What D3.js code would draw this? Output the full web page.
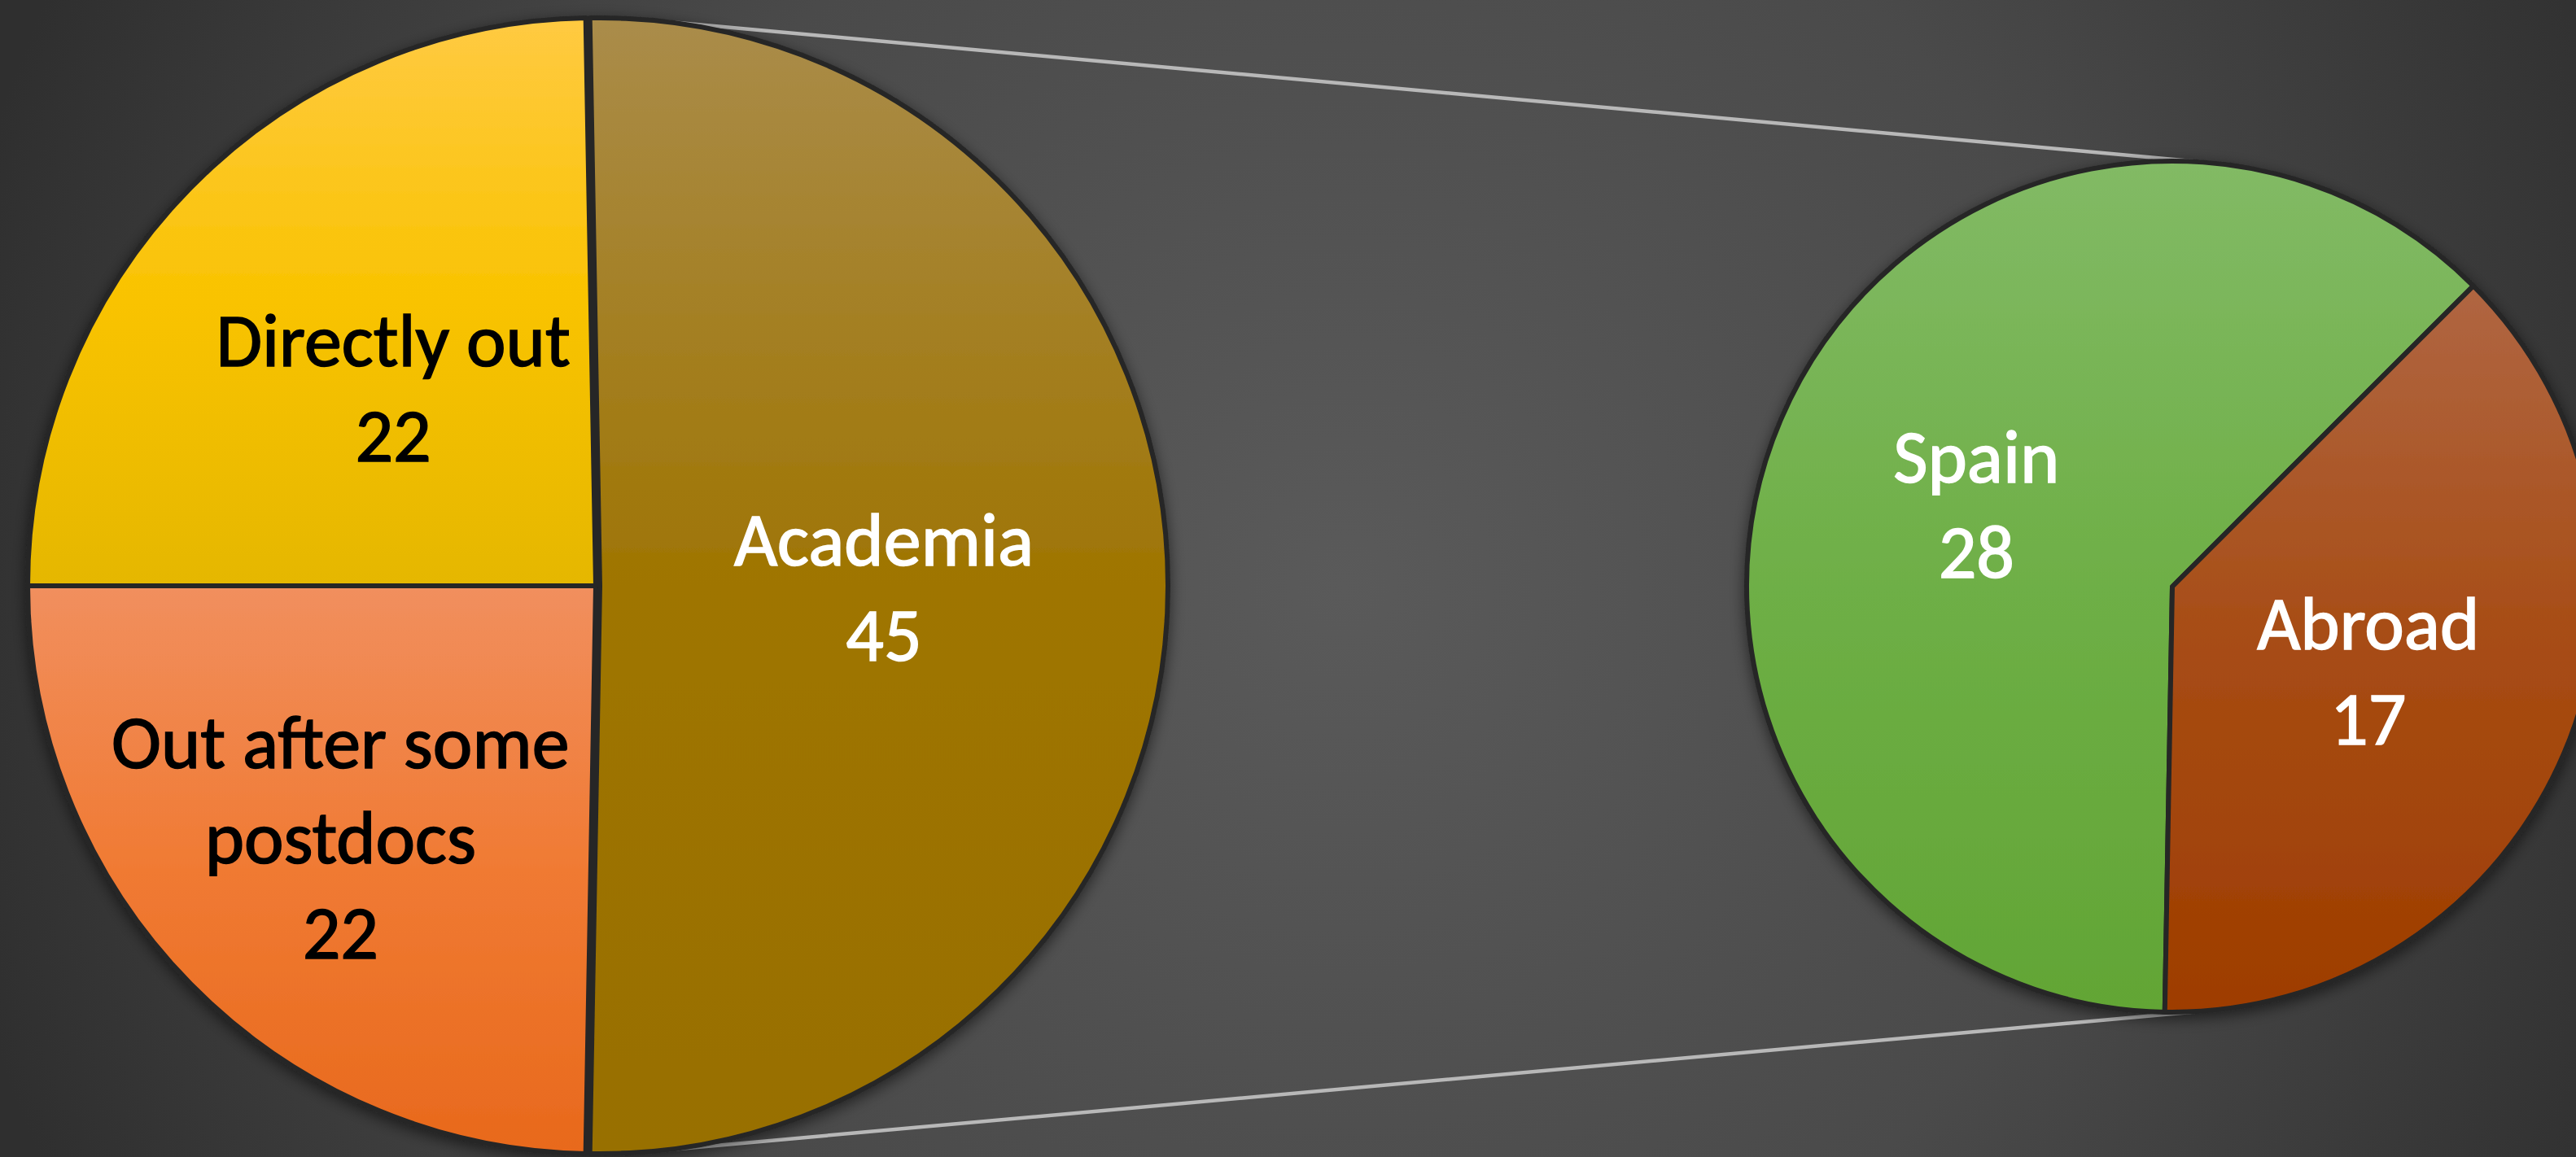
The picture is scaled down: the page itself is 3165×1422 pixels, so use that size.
<!DOCTYPE html>
<html><head><meta charset="utf-8">
<script src="https://cdn.jsdelivr.net/npm/d3@7"></script>
<style>html,body{margin:0;padding:0;background:#3a3a3a;overflow:hidden}</style>
</head><body>
<svg id="chart" width="3165" height="1422"></svg>
<script>
// ---- data ----
const mainCategories = ["Academia", "Out after some postdocs", "Directly out"];
const mainValues = [45, 22, 22];
const subCategories = ["Spain", "Abroad"];
const subValues = [28, 17];

// ---- style ----
const mainColors = [
  ["#AA8C4A", "#9F7502", "#986F00"],
  ["#F18F5E", "#F07A33", "#E8691C"],
  ["#FFCA42", "#F9C300", "#E5B700"]
];
const subColors = [
  ["#82BA65", "#6EAF46", "#62A535"],
  ["#B06642", "#A74C14", "#9E3D00"]
];
const mainTextColors = ["#ffffff", "#000000", "#000000"];
const subTextColors = ["#ffffff", "#ffffff"];
const mainLabelRadius = [0.5, 0.63, 0.5];
const subLabelRadius = [0.5, 0.5];
const W = 3165, H = 1422;
const fontFamily = "Calibri, Carlito, Lato, 'Noto Sans', sans-serif";
const fontSize = 92, lineHeight = 117;

const svg = d3.select("#chart");
const defs = svg.append("defs");

// background
const bg = defs.append("radialGradient").attr("id", "bg")
  .attr("gradientUnits", "userSpaceOnUse")
  .attr("cx", 1650).attr("cy", 720).attr("r", 1750);
bg.append("stop").attr("offset", 0).attr("stop-color", "#5a5a5a");
bg.append("stop").attr("offset", 0.55).attr("stop-color", "#4a4a4a");
bg.append("stop").attr("offset", 1).attr("stop-color", "#2f2f2f");
svg.append("rect").attr("width", W).attr("height", H).attr("fill", "url(#bg)");

// shadow
const f = defs.append("filter").attr("id", "shadow")
  .attr("x", "-10%").attr("y", "-10%").attr("width", "120%").attr("height", "120%");
f.append("feDropShadow").attr("dx", 0).attr("dy", 5).attr("stdDeviation", 9)
  .attr("flood-color", "#000").attr("flood-opacity", 0.55);

function grad(id, stops) {
  const g = defs.append("linearGradient").attr("id", id)
    .attr("x1", 0).attr("y1", 0).attr("x2", 0).attr("y2", 1);
  stops.forEach((c, i) => g.append("stop").attr("offset", i / (stops.length - 1)).attr("stop-color", c));
  return `url(#${id})`;
}

// geometry
const main = { cx: 732, cy: 720, r: 698, explode: 5 };
const sub = { cx: 2669, cy: 721, r: 523 };
const deg = Math.PI / 180;

const mainTotal = d3.sum(mainValues);
const mainStart = Math.PI / 2 - Math.PI * mainValues[0] / mainTotal;
const mainPie = d3.pie().sort(null).value(d => d)
  .startAngle(mainStart).endAngle(mainStart + 2 * Math.PI);
const mainArcs = mainPie(mainValues);

const subStart = mainArcs[0].endAngle;
const subPie = d3.pie().sort(null).value(d => d)
  .startAngle(subStart).endAngle(subStart + 2 * Math.PI);
const subArcs = subPie(subValues);

const mainArc = d3.arc().innerRadius(0).outerRadius(main.r);
const subArc = d3.arc().innerRadius(0).outerRadius(sub.r);

function offsetOf(a, dist) {
  const m = (a.startAngle + a.endAngle) / 2;
  return [dist * Math.sin(m), -dist * Math.cos(m)];
}

// connector lines
const academiaOff = offsetOf(mainArcs[0], main.explode);
const connAngles = [5 * deg, 174.5 * deg];
const conn = svg.append("g");
connAngles.forEach(a => {
  const x1 = main.cx + academiaOff[0] + main.r * Math.sin(a);
  const y1 = main.cy + academiaOff[1] - main.r * Math.cos(a);
  const x2 = sub.cx + sub.r * Math.sin(a);
  const y2 = sub.cy - sub.r * Math.cos(a);
  conn.append("line").attr("x1", x1).attr("y1", y1).attr("x2", x2).attr("y2", y2)
    .attr("stroke", "#b8b8b8").attr("stroke-width", 4.5);
});

// main pie
const gMain = svg.append("g").attr("transform", `translate(${main.cx},${main.cy})`)
  .attr("filter", "url(#shadow)");
gMain.selectAll("path").data(mainArcs).join("path")
  .attr("d", mainArc)
  .attr("transform", (d, i) => i === 0 ? `translate(${academiaOff[0]},${academiaOff[1]})` : null)
  .attr("fill", (d, i) => grad("mg" + i, mainColors[i]))
  .attr("stroke", "#262626").attr("stroke-width", 6).attr("stroke-linejoin", "round");

// sub pie
const gSub = svg.append("g").attr("transform", `translate(${sub.cx},${sub.cy})`)
  .attr("filter", "url(#shadow)");
gSub.selectAll("path").data(subArcs).join("path")
  .attr("d", subArc)
  .attr("fill", (d, i) => grad("sg" + i, subColors[i]))
  .attr("stroke", "#262626").attr("stroke-width", 6).attr("stroke-linejoin", "round");

// labels
const measurer = svg.append("text").attr("font-family", fontFamily).attr("font-size", fontSize)
  .attr("visibility", "hidden");
function wrap(name, maxW) {
  const words = name.split(" ");
  const lines = [];
  let cur = "";
  words.forEach(w => {
    const test = cur ? cur + " " + w : w;
    measurer.text(test);
    if (cur && measurer.node().getComputedTextLength() > maxW) { lines.push(cur); cur = w; }
    else cur = test;
  });
  if (cur) lines.push(cur);
  return lines;
}

function drawLabels(g, arcs, cats, r, radii, colors, off) {
  arcs.forEach((d, i) => {
    const la = d3.arc().innerRadius(r * radii[i]).outerRadius(r * radii[i]);
    let [x, y] = la.centroid(d);
    if (off && i === 0) { x += off[0]; y += off[1]; }
    const lines = wrap(cats[i], 640).concat([String(d.value)]);
    const n = lines.length;
    const t = g.append("text").attr("font-family", fontFamily).attr("font-size", fontSize)
      .attr("fill", colors[i]).attr("stroke", colors[i]).attr("stroke-width", 1.6)
      .attr("text-anchor", "middle");
    lines.forEach((ln, k) => {
      t.append("tspan").attr("x", x)
        .attr("y", y - (n - 1) * lineHeight / 2 + k * lineHeight + fontSize * 0.36)
        .text(ln);
    });
  });
}
const gMainLab = svg.append("g").attr("transform", `translate(${main.cx},${main.cy})`);
drawLabels(gMainLab, mainArcs, mainCategories, main.r, mainLabelRadius, mainTextColors, academiaOff);
const gSubLab = svg.append("g").attr("transform", `translate(${sub.cx},${sub.cy})`);
drawLabels(gSubLab, subArcs, subCategories, sub.r, subLabelRadius, subTextColors, null);
measurer.remove();
</script>
</body></html>
